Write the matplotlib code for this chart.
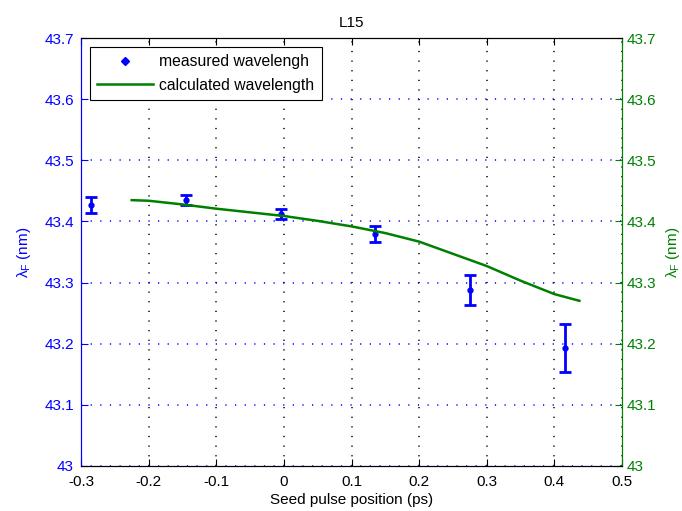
import numpy as np
import matplotlib
matplotlib.use('Agg')
import matplotlib.pyplot as plt
from matplotlib.lines import Line2D

plt.rcParams['font.family'] = ['Liberation Sans', 'DejaVu Sans']
plt.rcParams['mathtext.fontset'] = 'custom'
plt.rcParams['mathtext.rm'] = 'Liberation Sans'
plt.rcParams['mathtext.it'] = 'Liberation Sans'

# measured seed positions (ps), wavelength (nm) and error bars
seed_pos = [-0.285, -0.145, -0.004, 0.135, 0.275, 0.415]
lam_meas = [43.427, 43.435, 43.412, 43.380, 43.288, 43.193]
lam_err = [0.0137, 0.008, 0.0077, 0.0131, 0.0243, 0.039]

# calculated wavelength curve
calc_pos = [-0.225, -0.2, -0.15, -0.1, -0.05, 0.0, 0.05, 0.1, 0.15, 0.2, 0.25, 0.3, 0.35, 0.4, 0.437]
lam_calc = [43.435, 43.434, 43.428, 43.421, 43.415, 43.409, 43.401, 43.392, 43.381, 43.367,
            43.347, 43.327, 43.303, 43.281, 43.270]

blue = '#0000ff'
green = '#008000'
fs = 11

fig = plt.figure(figsize=(6.82, 5.11), dpi=100)
ax1 = fig.add_axes([0.1188, 0.089, 0.7932, 0.8357])
ax2 = ax1.twinx()

# sparse dots like the old-style grid
ax1.xaxis.grid(True, linestyle=(0, (0.8, 5.5)), color='black', lw=1.1)
ax1.yaxis.grid(True, linestyle=(0, (0.8, 5.5)), color=blue, lw=1.1)
ax1.set_axisbelow(True)

ax1.errorbar(seed_pos, lam_meas, yerr=lam_err, fmt='o', color=blue, ms=3.5,
             elinewidth=2, capsize=4, capthick=2)
ax2.plot(calc_pos, lam_calc, color=green, lw=1.8)

for ax in (ax1, ax2):
    ax.set_xlim(-0.3, 0.5)
    ax.set_ylim(43, 43.7)
    ax.set_yticks(np.arange(43, 43.71, 0.1))
    ax.set_yticklabels(['43', '43.1', '43.2', '43.3', '43.4', '43.5', '43.6', '43.7'])
    ax.tick_params(direction='in', length=5, labelsize=fs, pad=5)

ax1.set_xticks(np.arange(-0.3, 0.51, 0.1))
ax1.set_xticklabels(['-0.3', '-0.2', '-0.1', '0', '0.1', '0.2', '0.3', '0.4', '0.5'])
ax1.tick_params(axis='x', top=True, colors='black', pad=7)
ax1.tick_params(axis='y', colors=blue)
ax2.tick_params(axis='y', colors=green, pad=3)

ax1.spines['left'].set_color(blue)
ax2.spines['left'].set_color(blue)
ax2.spines['right'].set_color(green)
ax1.spines['right'].set_color(green)

ax1.set_xlabel('Seed pulse position (ps)', fontsize=fs, labelpad=3)
ax1.set_ylabel(r'$\lambda_F$ (nm)', color=blue, fontsize=fs, labelpad=8)
ax2.set_ylabel(r'$\lambda_F$ (nm)', color=green, fontsize=fs, labelpad=6)
ax1.set_title('L15', fontsize=fs, pad=8)

handles = [Line2D([], [], color=blue, marker='D', ms=4, ls='none'),
           Line2D([], [], color=green, lw=1.8)]
labels = ['measured wavelengh', 'calculated wavelength']
leg = ax2.legend(handles, labels, loc='upper left', fontsize=fs + 0.3, fancybox=False,
                 edgecolor='black', framealpha=1, borderaxespad=0.55, handlelength=3.6,
                 labelspacing=0.55, handletextpad=0.4, borderpad=0.45)
leg.get_frame().set_linewidth(0.8)

fig.savefig('out.png', dpi=100)
